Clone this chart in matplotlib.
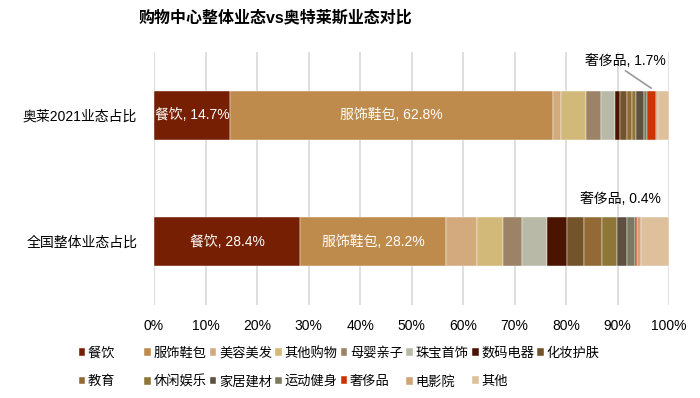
import numpy as np
import matplotlib
matplotlib.use("Agg")
import matplotlib.pyplot as plt

plt.rcParams['font.family'] = ['Liberation Sans', 'Noto Sans CJK SC', 'DejaVu Sans']

# categories (legend order)
categories = ['餐饮', '服饰鞋包', '美容美发', '其他购物', '母婴亲子', '珠宝首饰', '数码电器',
              '化妆护肤', '教育', '休闲娱乐', '家居建材', '运动健身', '奢侈品', '电影院', '其他']
colors = ['#761f02', '#bf8b4c', '#d3aa7e', '#d2b97a', '#9c8266', '#b8b9a6', '#4a1400',
          '#73532a', '#936a36', '#8d7636', '#5e5040', '#7a7a60', '#cc3300', '#cfa477', '#dfc09c']

rows = ['全国整体业态占比', '奥莱2021业态占比']
# shares in %, one list per row
national = [28.4, 28.2, 6.0, 5.2, 3.6, 4.9, 3.8, 3.4, 3.5, 2.9, 1.9, 1.6, 0.4, 0.65, 5.55]
outlet = [14.7, 62.8, 1.5, 4.9, 2.9, 2.7, 0.9, 1.4, 0.9, 0.85, 1.5, 0.6, 1.7, 0.4, 2.25]

data = np.array([national, outlet])

fig = plt.figure(figsize=(7, 3.98), dpi=100)
ax = fig.add_axes([0.22, 0.234, 0.736, 0.635])

y = np.arange(len(rows))
left = np.zeros(len(rows))
handles = []
for k, cat in enumerate(categories):
    b = ax.barh(y, data[:, k], left=left, height=0.39, color=colors[k],
                edgecolor='white', linewidth=0.3, label=cat, zorder=3)
    handles.append(b)
    if k < 2:
        for i in range(len(rows)):
            ax.text(left[i] + data[i, k] / 2, y[i], f'{cat}, {data[i, k]:.1f}%',
                    ha='center', va='center', color='white', fontsize=10, zorder=4)
    left += data[:, k]

# luxury labels above the bars
lux = categories.index('奢侈品')
lux_start = data[:, :lux].sum(axis=1)
ax.annotate(f'奢侈品, {outlet[lux]:.1f}%', xy=(lux_start[1] + outlet[lux] / 2, 1.215),
            xytext=(91.5, 1.43), ha='center', va='center', fontsize=10,
            arrowprops=dict(arrowstyle='-', color='#999999', lw=1.2, relpos=(0.45, 0),
                            shrinkA=0, shrinkB=0))
ax.text(90.5, 0.335, f'奢侈品, {national[lux]:.1f}%', ha='center', va='center', fontsize=10)

ax.set_xlim(0, 100)
ax.set_ylim(-0.5, 1.5)
ax.set_xticks(np.arange(0, 101, 10))
ax.set_xticklabels([f'{v}%' for v in range(0, 101, 10)], fontsize=10)
ax.set_yticks(y)
ax.set_yticklabels(rows, fontsize=10)
ax.tick_params(length=0, pad=12)
ax.tick_params(axis='x', pad=10)
ax.grid(axis='x', color='#d9d9d9', linewidth=1.2, zorder=0)
for s in ax.spines.values():
    s.set_visible(False)

fig.text(0.393, 0.955, '购物中心整体业态vs奥特莱斯业态对比', ha='center', va='center',
         fontsize=11.5, fontweight='bold')

# legend filled row by row: reorder for column-major filling
order = [0, 8, 1, 9, 2, 10, 3, 11, 4, 12, 5, 13, 6, 14, 7]
labels = list(categories)
labels[0] = labels[0] + '\u3000\u3000'
labels[8] = labels[8] + '\u3000\u3000'
fig.legend([handles[i] for i in order], [labels[i] for i in order],
           loc='upper left', bbox_to_anchor=(0.103, 0.145), ncol=8, frameon=False,
           fontsize=9.5, handlelength=0.5, handleheight=0.5, handletextpad=0.2,
           columnspacing=0.25, labelspacing=1.2, borderpad=0)

fig.savefig('out.png', dpi=100)
